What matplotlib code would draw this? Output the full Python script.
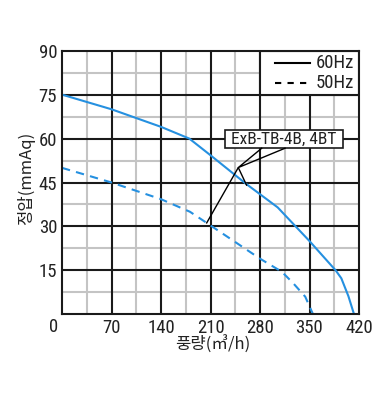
import matplotlib
matplotlib.use("Agg")
import matplotlib.pyplot as plt
from matplotlib.patches import Rectangle
from matplotlib import font_manager

# ---- data ----
x60 = [0, 70, 140, 180, 210, 260, 305, 350, 387, 395, 405, 413]
y60 = [75, 70, 64, 60, 54.3, 44.6, 36.5, 25, 15, 12.3, 6.2, 0]
x50 = [0, 70, 140, 181, 209, 280, 311, 327, 344, 355]
y50 = [50, 45, 39.3, 35, 30.5, 19, 14.5, 10.6, 6, 0]
xticks = [70, 140, 210, 280, 350, 420]
yticks = [15, 30, 45, 60, 75, 90]
legend_labels = ["60Hz", "50Hz"]
model_label = "ExB-TB-4B, 4BT"
xlabel = "풍량(㎥/h)"
ylabel = "정압(mmAq)"

names = {f.name for f in font_manager.fontManager.ttflist}
num_font = next((n for n in ["Roboto Condensed", "Archivo Narrow", "PT Sans Narrow", "Liberation Sans"]
                 if n in names), "DejaVu Sans")
kr_font = "Noto Sans CJK KR"
plt.rcParams["font.family"] = [num_font, kr_font, "DejaVu Sans"]

blue = "#2590e0"
ink = "#1a1a1a"
txt = "#222222"
W, H = 378, 399
fig = plt.figure(figsize=(W / 100, H / 100), dpi=100)
ax = fig.add_axes([62 / W, 1 - 314.3 / H, 297 / W, 263.6 / H])
ax.set_xlim(0, 420)
ax.set_ylim(0, 90)

# grid
for v in range(35, 420, 70):
    ax.axvline(v, color="#c4c4c4", lw=1.5, zorder=1)
for v in [7.5 + 15 * i for i in range(6)]:
    ax.axhline(v, color="#c4c4c4", lw=1.5, zorder=1)
for v in xticks[:-1]:
    ax.axvline(v, color=ink, lw=1.5, zorder=2)
for v in yticks[:-1]:
    ax.axhline(v, color=ink, lw=1.5, zorder=2)
for s in ax.spines.values():
    s.set_linewidth(1.5)
    s.set_color(ink)
    s.set_zorder(6)

ax.set_xticks(xticks)
ax.set_yticks(yticks)
ax.tick_params(length=0, labelsize=13.5, pad=3.5, colors=txt)
ax.text(-5.5, -1.2, "0", ha="right", va="top", fontsize=13.5, color=txt)

# curves
ax.plot(x60, y60, color=blue, lw=1.5, zorder=4, solid_capstyle="butt")
ax.plot(x50, y50, color=blue, lw=1.5, dashes=[4, 3], zorder=4)

# legend box
ax.add_patch(Rectangle((280, 75), 140, 15, facecolor="white", edgecolor=ink, lw=1.5, zorder=3))
ax.plot([301, 351], [85.7, 85.7], color="black", lw=1.5, zorder=5)
ax.plot([301, 351], [78.9, 78.9], color="black", lw=1.5, dashes=[3, 3], zorder=5)
ax.text(359, 85.7, legend_labels[0], ha="left", va="center", fontsize=13.5, zorder=5, color=txt)
ax.text(359, 78.9, legend_labels[1], ha="left", va="center", fontsize=13.5, zorder=5, color=txt)

# model annotation box
ax.add_patch(Rectangle((230.5, 56.7), 167.3, 6.2, facecolor="white", edgecolor=ink, lw=1.2, zorder=5))
ax.text(314, 59.8, model_label, ha="center", va="center", fontsize=12.5, zorder=6, color=txt)
jx, jy = 249.3, 50.1
ax.plot([282.4, jx, 315.4], [56.7, jy, 56.7], color="black", lw=1.0, zorder=5)
ax.plot([261, jx, 204.6], [44.1, jy, 31.2], color="black", lw=1.0, zorder=5)

fig.text(213 / W, 1 - 345 / H, xlabel, ha="center", va="center", fontsize=12,
         family=[kr_font, "DejaVu Sans"], color=txt)
fig.text(26 / W, 1 - 178 / H, ylabel, ha="center", va="center", fontsize=12, rotation=90,
         family=[kr_font, "DejaVu Sans"], color=txt)

fig.savefig("out.png", dpi=100, facecolor="white")
